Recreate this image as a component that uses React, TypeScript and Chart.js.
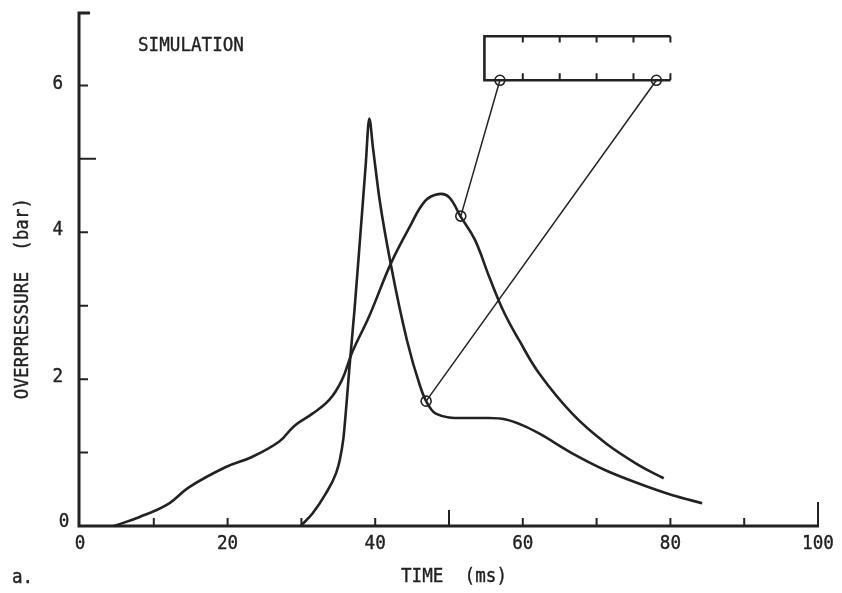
import React, { useEffect, useRef } from "react";
import { Chart, registerables } from "chart.js";

Chart.register(...registerables);

// Broad curve (pressure at the far gauge)
const timeA = [4.6, 8, 11.8, 14.8, 19.7, 23.3, 27, 29, 31.5, 33.8, 35.5, 36.9, 39.2, 42.1, 44.6, 46.8, 48.6, 50, 51.6, 53.5, 55.5, 57.5, 59.5, 62.2, 66.7, 71.2, 75.7, 79.1];
const pressureA = [0, 0.12, 0.29, 0.53, 0.8, 0.94, 1.15, 1.36, 1.53, 1.72, 1.99, 2.37, 2.86, 3.57, 4.06, 4.43, 4.52, 4.48, 4.21, 3.9, 3.38, 2.9, 2.53, 2.08, 1.53, 1.13, 0.83, 0.65];

// Sharp-peak curve (pressure at the near gauge)
const timeB = [29.9, 31.5, 33.3, 34.7, 35.2, 35.7, 36.1, 36.5, 37.2, 38, 38.7, 39.2, 39.7, 40.6, 42.1, 44.3, 46.1, 46.9, 48.2, 51.8, 55.4, 57.7, 60, 62.2, 66.7, 71.2, 75.7, 80.3, 84.3];
const pressureB = [0, 0.17, 0.44, 0.72, 0.9, 1.2, 1.65, 2.15, 2.95, 3.98, 4.9, 5.55, 5.15, 4.44, 3.57, 2.53, 1.9, 1.7, 1.53, 1.47, 1.47, 1.45, 1.37, 1.26, 0.99, 0.76, 0.58, 0.42, 0.31];

// Markers on curves and gauge positions on the tube sketch
const curveMarkX = [51.6, 46.9];
const curveMarkY = [4.22, 1.7];
const gaugeX = [56.9, 78.1];
const tubeBottom = 6.07;
const tubeTop = 6.67;
const tubeLeft = 54.8;
const tubeRight = 80;
const tubeTicks = [60, 65, 70, 75, 80];

const xLabels = [0, 20, 40, 60, 80, 100];
const yLabels = [0, 2, 4, 6];
const xTickValues = [10, 20, 30, 40, 50, 60, 70, 80, 90];
const yTickValues = [1, 2, 3, 4, 5, 6];

const title = "SIMULATION";
const xTitle = "TIME  (ms)";
const yTitle = "OVERPRESSURE  (bar)";
const panelTag = "a.";

const INK = "#222";
const FONT = '20px "DejaVu Sans Mono"';

function txt(ctx: CanvasRenderingContext2D, s: string, x: number, y: number, align: CanvasTextAlign, rot = 0) {
  ctx.save();
  ctx.translate(x, y);
  ctx.rotate(rot);
  ctx.scale(0.88, 1);
  ctx.font = FONT;
  ctx.fillStyle = INK;
  ctx.strokeStyle = INK;
  ctx.lineWidth = 0.4;
  ctx.textAlign = align;
  ctx.textBaseline = "middle";
  ctx.fillText(s, 0, 0);
  ctx.strokeText(s, 0, 0);
  ctx.restore();
}

const axesPlugin = {
  id: "typewriterAxes",
  beforeDatasetsDraw(chart: any) {
    const ctx: CanvasRenderingContext2D = chart.ctx;
    const xs = chart.scales.x;
    const ys = chart.scales.y;
    const x0 = xs.getPixelForValue(0);
    const y0 = ys.getPixelForValue(0);
    const axisX = x0 - 1;
    ctx.save();
    ctx.strokeStyle = INK;
    ctx.lineCap = "butt";
    ctx.lineWidth = 3;
    ctx.beginPath();
    const yTop = ys.getPixelForValue(7) + 1;
    ctx.moveTo(axisX + 11, yTop);
    ctx.lineTo(axisX - 1.5, yTop);
    ctx.moveTo(axisX, yTop);
    ctx.lineTo(axisX, y0);
    ctx.moveTo(axisX - 1.5, y0);
    ctx.lineTo(xs.getPixelForValue(100) + 1, y0);
    ctx.stroke();
    ctx.lineWidth = 2;
    ctx.beginPath();
    yTickValues.forEach((v) => {
      const py = ys.getPixelForValue(v);
      ctx.moveTo(axisX, py);
      ctx.lineTo(axisX + (v === 5 ? 17 : 9), py);
    });
    xTickValues.forEach((v) => {
      const px = xs.getPixelForValue(v);
      ctx.moveTo(px, y0);
      ctx.lineTo(px, y0 - (v === 50 ? 16 : 8));
    });
    const px100 = xs.getPixelForValue(100);
    ctx.moveTo(px100, y0);
    ctx.lineTo(px100, y0 - 24);
    ctx.stroke();
    ctx.restore();
  },
  afterDraw(chart: any) {
    const ctx: CanvasRenderingContext2D = chart.ctx;
    const xs = chart.scales.x;
    const ys = chart.scales.y;
    xLabels.forEach((v) => txt(ctx, String(v), xs.getPixelForValue(v), 544, "center"));
    yLabels.forEach((v) => {
      if (v === 0) {
        txt(ctx, "0", 64, ys.getPixelForValue(0) - 4, "center");
      } else {
        txt(ctx, String(v), 63, ys.getPixelForValue(v) - 2, "right");
      }
    });
    txt(ctx, title, 138, 45.5, "left");
    txt(ctx, xTitle, 454, 577, "center");
    txt(ctx, yTitle, 23, 298.5, "center", -Math.PI / 2);
    txt(ctx, panelTag, 12, 578, "left");
  },
};

function xy(xsArr: number[], ysArr: number[]) {
  return xsArr.map((x, i) => ({ x, y: ysArr[i] }));
}

export default function App() {
  const ref = useRef<HTMLCanvasElement | null>(null);
  useEffect(() => {
    if (!ref.current) return;
    const tickData: any[] = [];
    tubeTicks.forEach((t) => {
      tickData.push({ x: t, y: tubeTop }, { x: t, y: tubeTop - 0.085 }, { x: t, y: null });
      tickData.push({ x: t, y: tubeBottom }, { x: t, y: tubeBottom + 0.095 }, { x: t, y: null });
    });
    const lineBase = {
      borderColor: INK,
      pointRadius: 0,
      fill: false,
      clip: false as any,
    };
    const chart = new Chart(ref.current, {
      type: "line",
      data: {
        datasets: [
          { ...lineBase, data: xy(timeA, pressureA), borderWidth: 2.6, tension: 0.4, borderJoinStyle: "round" } as any,
          { ...lineBase, data: xy(timeB, pressureB), borderWidth: 2.6, cubicInterpolationMode: "monotone", borderJoinStyle: "round" } as any,
          { ...lineBase, data: [{ x: curveMarkX[0], y: curveMarkY[0] }, { x: gaugeX[0], y: tubeBottom }], borderWidth: 1.5, tension: 0 },
          { ...lineBase, data: [{ x: curveMarkX[1], y: curveMarkY[1] }, { x: gaugeX[1], y: tubeBottom }], borderWidth: 1.5, tension: 0 },
          {
            ...lineBase,
            data: [
              { x: tubeRight, y: tubeTop },
              { x: tubeLeft, y: tubeTop },
              { x: tubeLeft, y: tubeBottom },
              { x: tubeRight, y: tubeBottom },
            ],
            borderWidth: 2.6,
            tension: 0,
          },
          { ...lineBase, data: tickData, borderWidth: 2, tension: 0, spanGaps: false },
          {
            ...lineBase,
            data: [
              { x: curveMarkX[0], y: curveMarkY[0] },
              { x: curveMarkX[1], y: curveMarkY[1] },
              { x: gaugeX[0], y: tubeBottom },
              { x: gaugeX[1], y: tubeBottom },
            ],
            showLine: false,
            pointRadius: 5,
            pointBorderWidth: 1.6,
            pointBorderColor: INK,
            pointBackgroundColor: "rgba(255,255,255,0)",
          } as any,
        ],
      },
      options: {
        responsive: false,
        animation: false,
        devicePixelRatio: 1,
        layout: { padding: { left: 80, right: 24, top: 12, bottom: 67 } },
        scales: {
          x: { type: "linear", min: 0, max: 100, display: false },
          y: { type: "linear", min: 0, max: 7, display: false },
        },
        plugins: { legend: { display: false }, tooltip: { enabled: false } },
        events: [],
      },
      plugins: [axesPlugin],
    });
    return () => chart.destroy();
  }, []);
  return (
    <div style={{ position: "absolute", left: 0, top: 0, width: 842, height: 593, background: "#fff" }}>
      <canvas ref={ref} width={842} height={593} style={{ width: 842, height: 593 }} />
    </div>
  );
}
